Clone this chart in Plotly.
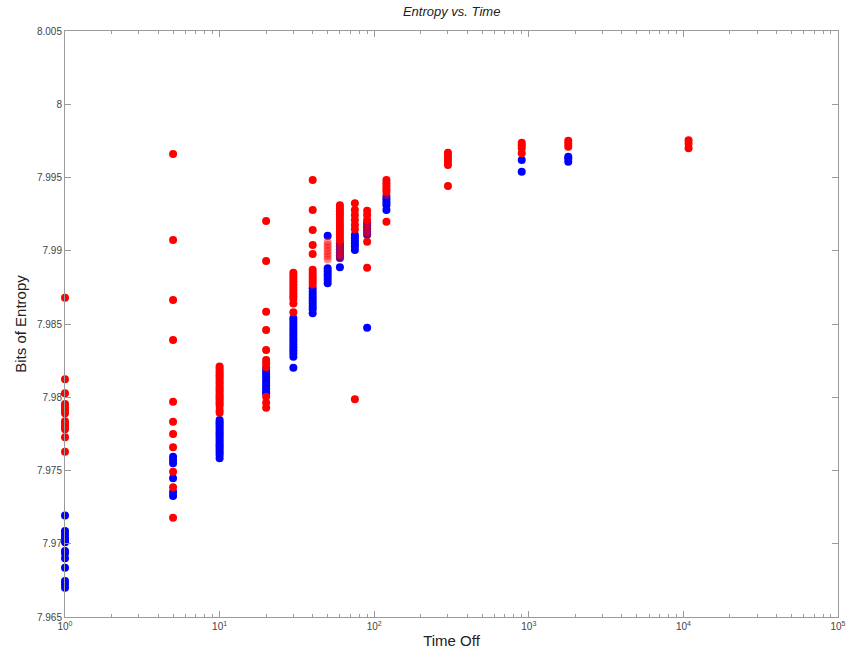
import plotly.graph_objects as go

# ---- data ----
x_groups = [1, 5, 10, 20, 30, 40, 50, 60, 75, 90, 120, 300, 900, 1800, 10800]

red_y = {
    1: [7.9868, 7.98123, 7.98027, 7.97954, 7.97931, 7.97913, 7.9789, 7.97836, 7.97817, 7.97799, 7.97781, 7.97727, 7.97628],
    5: [7.9966, 7.99073, 7.98664, 7.98391, 7.9797, 7.97833, 7.97749, 7.97658, 7.97492, 7.97385, 7.97178],
    10: [7.9821, 7.98196, 7.9818, 7.98166, 7.9815, 7.98137, 7.9812, 7.98104, 7.9809, 7.98073, 7.9806, 7.98046,
         7.9803, 7.98014, 7.98, 7.97986, 7.9797, 7.97955, 7.9794, 7.97913, 7.97895],
    20: [7.99203, 7.9893, 7.98584, 7.98459, 7.98323, 7.98254, 7.98232, 7.98204, 7.98004, 7.97963, 7.97929],
    30: [7.9885, 7.9883, 7.9881, 7.9879, 7.9877, 7.9875, 7.9873, 7.9871, 7.9869, 7.9867, 7.9864, 7.9858],
    40: [7.99483, 7.99278, 7.99142, 7.99039, 7.98978, 7.9887, 7.9885, 7.9883, 7.9881, 7.9879, 7.9877],
    60: [7.9931, 7.9929, 7.9927, 7.9925, 7.9923, 7.9921, 7.9919, 7.9917, 7.9915, 7.9913, 7.9911, 7.9909, 7.9907],
    75: [7.99324, 7.99278, 7.99244, 7.9921, 7.99176, 7.99146, 7.97986],
    90: [7.99273, 7.99244, 7.9921, 7.99062, 7.98884],
    120: [7.99483, 7.9946, 7.9944, 7.9942, 7.99403, 7.99198],
    300: [7.99669, 7.9965, 7.9963, 7.9961, 7.99585, 7.99442],
    900: [7.99738, 7.9972, 7.997, 7.99665],
    1800: [7.99751, 7.9973, 7.9971],
    10800: [7.99755, 7.9973, 7.997],
}

red_faded_y = {
    50: [7.9906, 7.9904, 7.9902, 7.99, 7.9898, 7.9896, 7.9894],
    60: [7.9905, 7.9903, 7.9901, 7.9899, 7.9897, 7.9895],
    90: [7.9919, 7.9917, 7.9915, 7.9913, 7.9911],
    120: [7.9938],
}

blue_y = {
    1: [7.97192, 7.97087, 7.97065, 7.97041, 7.97026, 7.9701, 7.9695, 7.96935, 7.96901, 7.96837, 7.96746, 7.96723, 7.967],
    5: [7.97594, 7.97572, 7.97549, 7.97447, 7.97353, 7.97326],
    10: [7.97845, 7.9783, 7.97815, 7.978, 7.97785, 7.9777, 7.97755, 7.9774, 7.97725, 7.9771, 7.97695, 7.9768,
         7.97665, 7.9765, 7.97635, 7.9762, 7.97605, 7.97583],
    20: [7.982, 7.9818, 7.9816, 7.9814, 7.9812, 7.981, 7.9808, 7.9806, 7.9804, 7.98027],
    30: [7.9854, 7.9852, 7.985, 7.9848, 7.9846, 7.9844, 7.9842, 7.984, 7.9838, 7.9836, 7.9834, 7.9832, 7.983,
         7.98277, 7.98202],
    40: [7.98744, 7.9872, 7.987, 7.9868, 7.9866, 7.9864, 7.9862, 7.986, 7.98573],
    50: [7.99103, 7.9888, 7.9886, 7.9884, 7.9882, 7.988, 7.98778],
    60: [7.9905, 7.9903, 7.9901, 7.9899, 7.9897, 7.9895, 7.98887],
    75: [7.99108, 7.9909, 7.9907, 7.9905, 7.9903, 7.99005],
    90: [7.9919, 7.9917, 7.9915, 7.9913, 7.9911, 7.98475],
    120: [7.99369, 7.9935, 7.9933, 7.9931, 7.99278],
    900: [7.9962, 7.9954],
    1800: [7.99642, 7.9963, 7.99608],
}

y_tick_vals = [7.965, 7.97, 7.975, 7.98, 7.985, 7.99, 7.995, 8.0, 8.005]
y_tick_text = ["7.965", "7.97", "7.975", "7.98", "7.985", "7.99", "7.995", "8", "8.005"]
x_tick_vals = [1, 10, 100, 1000, 10000, 100000]
x_tick_text = ["10<sup>0</sup>", "10<sup>1</sup>", "10<sup>2</sup>", "10<sup>3</sup>", "10<sup>4</sup>", "10<sup>5</sup>"]


def flatten(d):
    xs, ys = [], []
    for k in x_groups:
        for v in d.get(k, []):
            xs.append(k)
            ys.append(v)
    return xs, ys


bx, by = flatten(blue_y)
rx, ry = flatten(red_y)
fx, fy = flatten(red_faded_y)

fig = go.Figure()
fig.add_trace(go.Scatter(x=bx, y=by, mode="markers", cliponaxis=False,
                         marker=dict(color="#0000FF", size=8, line=dict(width=0))))
fig.add_trace(go.Scatter(x=rx, y=ry, mode="markers", cliponaxis=False,
                         marker=dict(color="#FF0000", size=8, line=dict(width=0))))
fig.add_trace(go.Scatter(x=fx, y=fy, mode="markers", cliponaxis=False,
                         marker=dict(color="#FF0000", size=8, opacity=0.45, line=dict(width=0))))

axis_color = "#9a9a9a"
font_family = "Liberation Sans, Arial, sans-serif"

fig.update_layout(
    width=849, height=659,
    margin=dict(l=65, r=11, t=31, b=42),
    paper_bgcolor="white", plot_bgcolor="white",
    showlegend=False,
    font=dict(family=font_family, color="#333333"),
    title=dict(text="<i>Entropy vs. Time</i>", x=0.532, xanchor="center", y=0.982, yanchor="middle",
               font=dict(size=13, color="#222222")),
)
fig.update_xaxes(
    type="log", range=[0, 5], showgrid=False, zeroline=False,
    showline=True, linecolor=axis_color, linewidth=1, mirror="ticks",
    ticks="inside", ticklen=6, tickcolor=axis_color,
    tickvals=x_tick_vals, ticktext=x_tick_text,
    tickfont=dict(size=10, color="#444444"),
    minor=dict(ticks="inside", ticklen=3, tickcolor=axis_color, dtick="D1", showgrid=False),
    title=dict(text="Time Off", font=dict(size=15, color="#222222"), standoff=4),
    automargin=False,
)
fig.update_yaxes(
    range=[7.965, 8.005], showgrid=False, zeroline=False,
    showline=True, linecolor=axis_color, linewidth=1, mirror="ticks",
    ticks="inside", ticklen=6, tickcolor=axis_color,
    tickvals=y_tick_vals, ticktext=y_tick_text,
    tickfont=dict(size=10, color="#444444"),
    title=dict(text="Bits of Entropy", font=dict(size=15, color="#222222"), standoff=6),
    automargin=False,
)

fig.write_html("out.html")
